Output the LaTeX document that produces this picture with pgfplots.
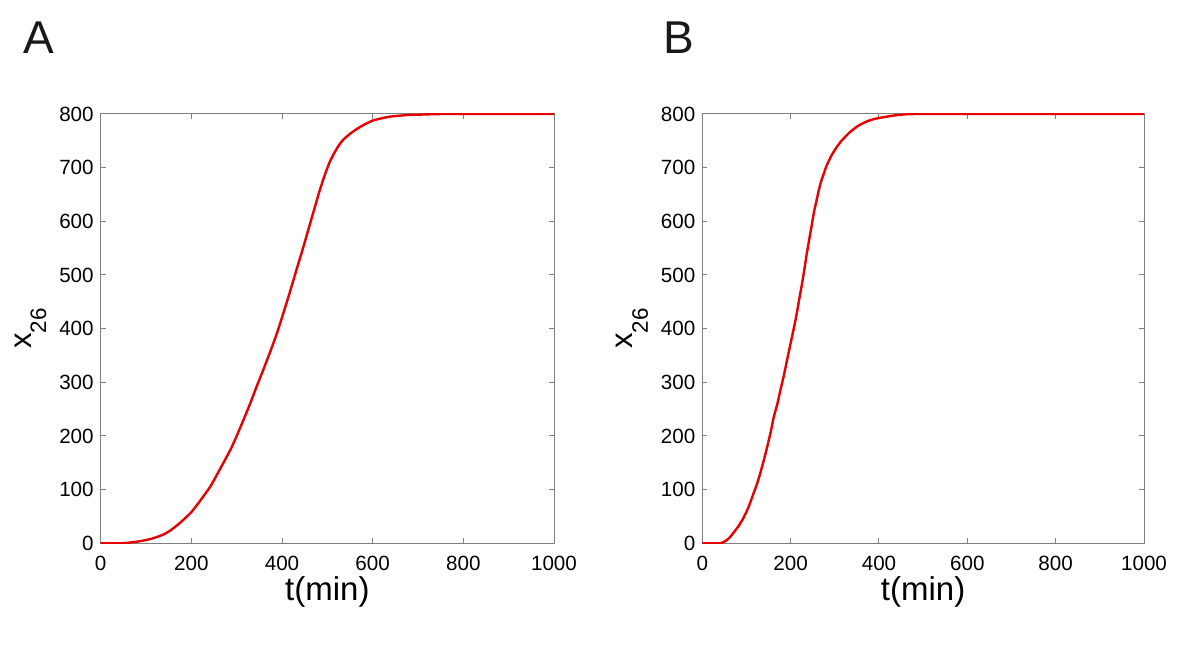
\documentclass[border=0pt]{standalone}
\usepackage{pgfplots}
\pgfplotsset{compat=1.18}
\usepackage{fontspec}
\setmainfont{Liberation Sans}
\definecolor{axgray}{RGB}{128,128,128}
\definecolor{curvered}{RGB}{230,0,0}
\pgfplotstableread{
t y
0 0
40 0
60 1
80 3
94 5
110 8
125 12
140 17
154 24
175 38
200 58
220 80
242 106
263 138
286 174
300 200
315 230
330 261
344 292
359 324
374 357
389 392
403 429
418 470
432 510
447 552
462 596
476 637
484 660
495 688
505 710
515 727
525 741
535 752
550 763
565 772
583 781
601 788
620 792
638 795
675 798
712 799
760 800
1000 800
}\dataA
\pgfplotstableread{
t y
0 0
40 0
50 3
60 9
70 19
82 32
93 47
105 68
116 93
124 111
131 130
139 154
147 180
155 208
162 236
170 260
177 286
185 314
192 342
200 373
208 404
214 429
219 453
225 480
231 510
236 537
242 566
248 594
253 618
259 640
264 659
270 677
276 691
281 703
292 722
304 738
315 750
334 766
353 778
372 786
391 791
410 794
432 797
455 799
500 800
1000 800
}\dataB
\pgfplotsset{
  myax/.style={
    scale only axis,
    height=214.65pt,
    xmin=0, xmax=1000, ymin=0, ymax=800,
    xtick={0,200,...,1000},
    ytick={0,100,...,800},
    tick align=inside,
    major tick length=2.5pt,
    axis line style={axgray, line width=0.5pt},
    tick style={axgray, line width=0.5pt},
    ticklabel style={font=\fontsize{10.3}{12}\selectfont, black},
    /pgf/number format/assume math mode=true,
    /pgf/number format/set thousands separator={},
    xticklabel style={yshift=-3pt},
    xlabel={t(min)},
    ylabel={x\raisebox{-7.5pt}{\fontsize{11.2}{12}\selectfont 26}},
    xlabel style={font=\fontsize{16.5}{17}\selectfont, yshift=4pt},
  }
}
\begin{document}
\begin{tikzpicture}[x=1pt,y=1pt]
\path (0,0) rectangle (600,328);
\begin{axis}[myax, width=226.65pt, at={(50.35pt,56.35pt)}, anchor=south west,
  ylabel style={font=\fontsize{15.5}{16}\selectfont, at={(axis description cs:-0.205,0.5)}, anchor=north}]
\addplot[curvered, line width=1.2pt, no marks, smooth, tension=0.3] table[x=t,y=y] {\dataA};
\end{axis}
\begin{axis}[myax, width=220.85pt, at={(351.15pt,56.35pt)}, anchor=south west,
  ylabel style={font=\fontsize{15.5}{16}\selectfont, at={(axis description cs:-0.2104,0.5)}, anchor=north}]
\addplot[curvered, line width=1.2pt, no marks, smooth, tension=0.3] table[x=t,y=y] {\dataB};
\end{axis}
\node[font=\fontsize{23}{24}\selectfont, text=black!90] at (19.5,309) {A};
\node[font=\fontsize{23}{24}\selectfont, text=black!90] at (339.5,309) {B};
\end{tikzpicture}
\end{document}
